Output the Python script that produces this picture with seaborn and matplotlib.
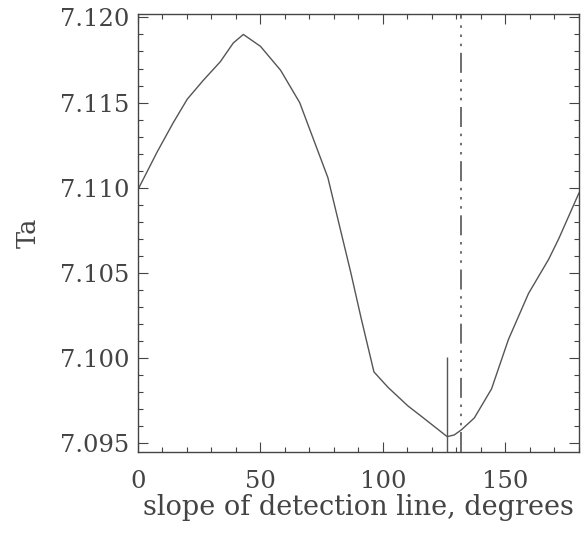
import numpy as np
import pandas as pd
import matplotlib
matplotlib.use("Agg")
import matplotlib.pyplot as plt
from matplotlib.ticker import MultipleLocator, FormatStrFormatter
import seaborn as sns

# curve
slope_deg = [0, 7.8, 14.3, 20.1, 26.6, 33.6, 38.9, 43.0, 50.0, 58.2, 66.0,
             77.5, 86.9, 91.0, 96.3, 102.0, 110.2, 115.6, 126.2, 129.1, 132.0,
             137.3, 144.3, 151.2, 159.4, 167.6, 171.7, 180.0]
ta_value = [7.1099, 7.1121, 7.1138, 7.1152, 7.1163, 7.1174, 7.1185, 7.1190,
            7.1183, 7.1169, 7.1150, 7.1106, 7.1050, 7.1024, 7.0992, 7.0983,
            7.0972, 7.0966, 7.0954, 7.0955, 7.0958, 7.0965, 7.0982, 7.1011,
            7.1038, 7.1058, 7.1070, 7.1097]

min_slope = 126.2     # solid marker
min_top = 7.1001
alt_slope = 132.0     # dash-dot-dot-dot marker

df = pd.DataFrame({"slope": slope_deg, "Ta": ta_value})

sns.set_theme(style="ticks")
plt.rcParams["font.family"] = ["DejaVu Serif"]
ink = "#444444"

fig = plt.figure(figsize=(5.84, 5.40), dpi=100)
ax = fig.add_axes([0.2363, 0.1630, 0.7551, 0.8111])

sns.lineplot(data=df, x="slope", y="Ta", color="#555555", linewidth=1.0, ax=ax)

ax.set_xlim(0, 180)
ax.set_ylim(7.0945, 7.1202)

ax.vlines(min_slope, 7.0945, min_top, color="#555555", linewidth=1.0)
ax.axvline(alt_slope, color="#555555", linewidth=1.2,
           linestyle=(0, (12, 4, 1.5, 4, 1.5, 4, 1.5, 4)))

ax.xaxis.set_major_locator(MultipleLocator(50))
ax.xaxis.set_minor_locator(MultipleLocator(10))
ax.yaxis.set_major_locator(MultipleLocator(0.005))
ax.yaxis.set_minor_locator(MultipleLocator(0.001))
ax.yaxis.set_major_formatter(FormatStrFormatter("%.3f"))

ax.tick_params(which="both", direction="in", top=True, right=True,
               color=ink, width=0.8, labelsize=17.5, labelcolor=ink)
ax.tick_params(which="major", length=7)
ax.tick_params(which="minor", length=3.5)
ax.tick_params(axis="x", which="major", pad=13)
ax.tick_params(axis="y", which="major", pad=6)
for s in ax.spines.values():
    s.set_color(ink)
    s.set_linewidth(1.0)

ax.set_xlabel("slope of detection line, degrees", fontsize=19.5, color=ink, labelpad=1)
ax.set_ylabel("Ta", fontsize=18.5, color=ink, labelpad=14)

fig.savefig("out.png", dpi=100)
